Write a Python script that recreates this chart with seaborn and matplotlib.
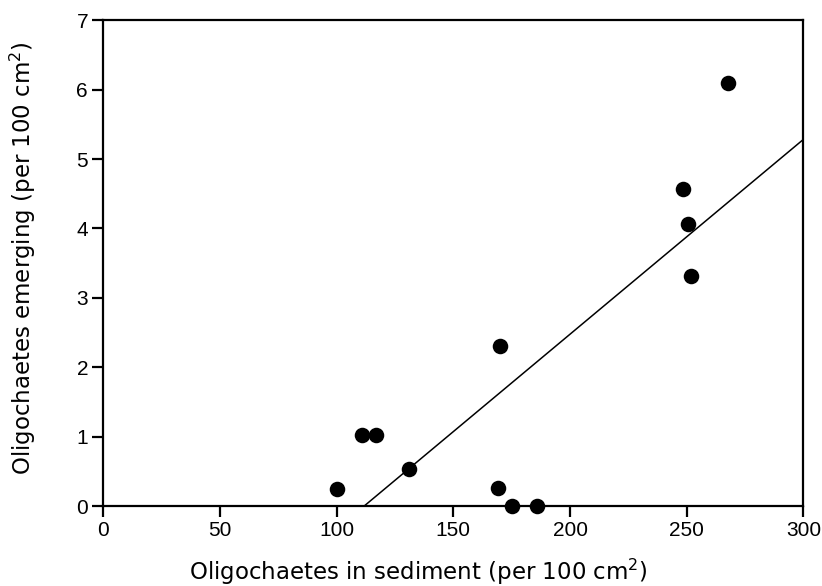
import pandas as pd
import matplotlib
matplotlib.use("Agg")
import matplotlib.pyplot as plt
import seaborn as sns

# valores
sedimento = [100, 111, 117, 131, 169, 175, 186, 170, 248.5, 250.5, 252, 267.5]
emergentes = [0.25, 1.03, 1.03, 0.53, 0.26, 0.0, 0.0, 2.3, 4.57, 4.07, 3.32, 6.1]
xticks = [0, 50, 100, 150, 200, 250, 300]
yticks = [0, 1, 2, 3, 4, 5, 6, 7]

df = pd.DataFrame({"sedimento": sedimento, "emergentes": emergentes})

sns.set_style("ticks")
plt.rcParams["font.family"] = ["Liberation Sans", "DejaVu Sans"]
plt.rcParams["mathtext.default"] = "regular"
plt.rcParams["text.color"] = "black"
plt.rcParams["axes.labelcolor"] = "black"

fig = plt.figure(figsize=(8.22, 5.86), dpi=100)
ax = fig.add_axes([0.1257, 0.1365, 0.8516, 0.829])
ax.set_xlim(0, 300)
ax.set_ylim(0, 7)

sns.regplot(
    data=df, x="sedimento", y="emergentes",
    ci=None, truncate=False, ax=ax,
    scatter_kws={"s": 125, "color": "black", "alpha": 1, "linewidths": 0,
                 "zorder": 3, "clip_on": False},
    line_kws={"color": "black", "lw": 1.1},
)
ax.set_xlim(0, 300)
ax.set_ylim(0, 7)

ax.set_xticks(xticks)
ax.set_yticks(yticks)
for s in ax.spines.values():
    s.set_visible(True)
    s.set_linewidth(1.6)
    s.set_color("black")
ax.tick_params(direction="out", length=8, width=1.6, labelsize=15, colors="black", pad=3)

etiqueta = {"fontsize": 16.5, "family": ["DejaVu Sans"], "color": "black"}
ax.set_xlabel("Oligochaetes in sediment (per 100 cm$^2$)", **etiqueta)
ax.set_ylabel("Oligochaetes emerging (per 100 cm$^2$)", **etiqueta)
ax.xaxis.set_label_coords(0.4496, -0.104)
ax.yaxis.set_label_coords(-0.093, 0.51)

plt.savefig("out.png", dpi=100)
plt.close(fig)
